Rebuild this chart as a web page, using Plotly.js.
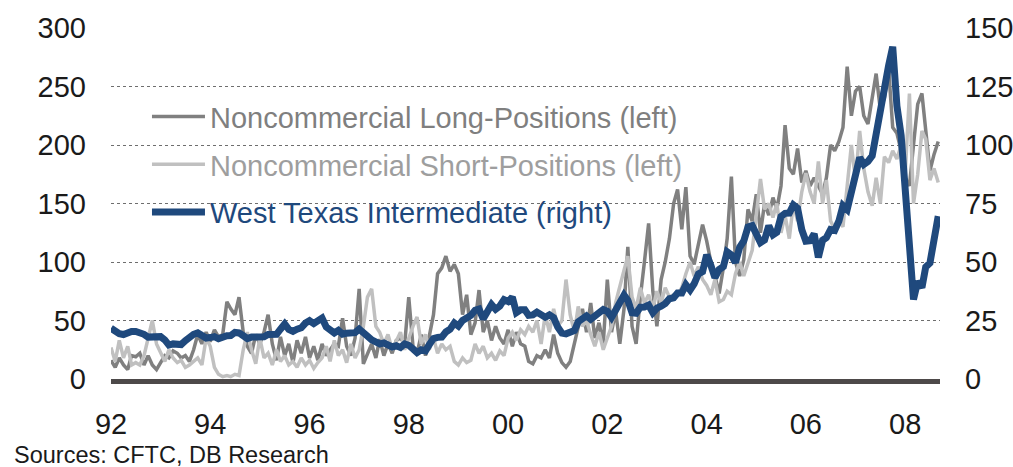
<!DOCTYPE html>
<html><head><meta charset="utf-8">
<script src="https://cdn.plot.ly/plotly-3.0.1.min.js"></script>
<style>html,body{margin:0;padding:0;background:#fff;}#chart{width:1013px;height:467px;}</style>
</head><body><div id="chart"></div>
<script>
// Monthly observations, first month Oct 1992, last month Jun 2009
const startYear = 1992, startMonth = 10, nMonths = 201;

// Noncommercial long positions (left axis, '000 contracts)
const longPos = [
16,10,18,12,8,20,19,22,12,20,
12,8,14,20,18,24,22,18,20,15,
25,38,30,40,32,42,36,38,66,60,
55,70,40,28,22,38,30,40,55,30,
16,36,20,30,14,33,22,36,18,28,
16,30,20,25,30,28,52,28,20,35,
77,13,22,30,18,34,20,30,22,33,
35,30,70,28,22,38,20,35,55,90,
95,105,92,98,90,55,72,38,48,76,
40,50,33,45,35,30,42,28,40,30,
28,15,13,20,18,25,18,38,22,14,
10,15,30,45,60,40,65,35,48,30,
85,40,58,30,60,113,45,30,70,100,
133,75,45,85,100,120,150,162,128,164,
105,98,115,132,118,100,88,73,95,120,
173,100,88,102,145,135,158,125,150,140,
155,145,165,217,180,175,197,168,178,165,
172,165,158,172,200,195,203,215,267,225,
246,250,225,218,240,261,230,240,265,215,
210,195,172,165,200,235,244,215,178,192,203
];

// Noncommercial short positions (left axis)
const shortPos = [
27,15,33,18,28,12,14,12,20,35,
50,30,22,15,25,18,14,16,10,12,
15,18,12,35,28,10,4,2,3,2,
4,3,25,40,25,13,35,18,22,12,
25,15,20,12,15,10,18,12,16,9,
14,18,28,15,33,20,25,14,30,18,
25,45,70,77,45,40,30,38,25,32,
40,25,35,45,53,30,38,25,35,22,
30,25,28,15,12,18,14,16,30,22,
28,18,22,16,24,20,35,40,33,42,
38,45,40,50,30,55,40,60,45,50,
85,55,40,62,45,50,38,28,40,25,
35,45,65,80,93,105,70,60,78,65,
72,60,75,65,78,70,72,72,78,90,
100,88,96,85,80,72,85,66,68,75,
72,90,100,88,98,110,140,171,145,150,
138,150,125,140,120,150,135,160,176,160,
150,186,150,170,135,128,137,130,165,200,
170,212,180,160,148,172,150,190,185,195,
188,200,175,244,150,175,212,205,170,180,168
];

// West Texas Intermediate, USD/bbl (right axis)
const wti = [
21.7,20.3,19.4,
19.0,20.1,20.3,20.3,19.9,19.1,17.9,18.0,17.5,18.1,16.7,14.5,
15.0,14.8,14.7,16.4,17.9,19.1,19.7,18.4,17.5,17.7,18.1,17.2,
18.0,18.5,18.6,19.9,19.7,18.4,17.3,17.9,18.0,17.4,18.0,19.0,
18.9,19.1,21.3,23.5,21.2,20.4,21.3,21.9,23.9,24.9,23.7,25.2,
26.0,22.2,20.9,19.7,20.8,19.2,19.6,19.9,19.8,21.3,20.2,18.3,
16.7,16.1,15.0,15.4,14.9,13.7,14.2,13.5,15.0,14.4,12.9,11.3,
12.5,12.0,14.7,17.3,17.8,17.9,20.1,21.3,23.9,22.6,25.0,26.1,
27.2,29.4,29.9,25.7,28.8,31.8,29.8,31.2,33.9,33.1,35.0,28.4,
29.6,29.6,27.2,27.4,28.6,27.6,26.4,27.4,26.2,22.2,19.6,19.3,
19.7,20.7,24.5,26.2,27.0,25.5,26.9,28.4,29.7,28.9,26.3,29.4,
32.9,35.9,33.6,28.3,28.1,30.7,30.8,31.6,28.3,30.3,31.1,32.2,
34.3,34.7,36.7,36.7,40.3,38.0,40.7,44.9,45.9,53.1,48.5,43.3,
46.8,48.0,54.3,53.0,49.8,56.3,59.0,65.0,65.6,62.4,58.3,59.4,
65.5,61.6,62.7,69.4,70.8,70.9,74.4,73.0,63.8,58.9,59.1,62.0,
52.0,59.3,60.4,63.9,63.5,67.5,74.1,72.4,79.9,86.2,94.6,91.7,
93.0,95.4,105.5,112.6,125.4,134.0,142.0,116.7,104.1,76.6,57.3,34.0,
41.7,39.1,47.9,49.6,59.0,69.6
];

const tickLabels = ['92','94','96','98','00','02','04','06','08'];
const tickDates = ['1992-10-01','1994-10-01','1996-10-01','1998-10-01','2000-10-01','2002-10-01','2004-10-01','2006-10-01','2008-10-01'];
const leftTicks = [0,50,100,150,200,250,300];
const rightTicks = [0,25,50,75,100,125,150];
const seriesNames = ['Noncommercial Long-Positions (left)','Noncommercial Short-Positions (left)','West Texas Intermediate (right)'];
const sourceText = 'Sources: CFTC, DB Research';

const dates = [];
for (let i = 0; i < nMonths; i++) {
  const m0 = startMonth - 1 + i;
  const y = startYear + Math.floor(m0 / 12);
  const m = (m0 % 12) + 1;
  dates.push(y + '-' + String(m).padStart(2, '0') + '-01');
}

const FONT = 'Liberation Sans, Arial, Helvetica, sans-serif';
const cLong = '#808080', cShort = '#C0C0C0', cWti = '#1F497D';

const traces = [
  {x: dates, y: longPos, type: 'scatter', mode: 'lines', yaxis: 'y', legendgroup: 'a',
   name: '<span style="color:#7f7f7f">' + seriesNames[0] + '</span>',
   line: {color: cLong, width: 3.5}, hoverinfo: 'skip'},
  {x: dates, y: shortPos, type: 'scatter', mode: 'lines', yaxis: 'y', legendgroup: 'b',
   name: '<span style="color:#9e9e9e">' + seriesNames[1] + '</span>',
   line: {color: cShort, width: 3.5}, hoverinfo: 'skip'},
  {x: dates, y: wti, type: 'scatter', mode: 'lines', yaxis: 'y2', legendgroup: 'c',
   name: '<span style="color:#1F497D">' + seriesNames[2] + '</span>',
   line: {color: cWti, width: 7}, hoverinfo: 'skip'}
];

const tickFont = {family: FONT, size: 29, color: '#1a1a1a'};

const layout = {
  width: 1013, height: 467,
  margin: {l: 111, r: 73, t: 28, b: 88},
  paper_bgcolor: '#ffffff', plot_bgcolor: '#ffffff',
  showlegend: true,
  legend: {x: 0.0434, y: 0.82, xanchor: 'left', yanchor: 'top', bgcolor: 'rgba(0,0,0,0)',
           font: {family: FONT, size: 29, color: '#808080'}, tracegroupgap: 7, itemwidth: 53},
  xaxis: {type: 'date', range: ['1992-10-01', '2009-06-14'], tickmode: 'array', tickvals: tickDates, ticktext: tickLabels,
          showgrid: false, zeroline: false, showline: true, linecolor: '#4d4949', linewidth: 5,
          ticks: '', ticklabelstandoff: 15, tickfont: tickFont, fixedrange: true},
  yaxis: {range: [0, 300], tickmode: 'array', tickvals: leftTicks, showgrid: true, gridcolor: '#6e6e6e',
          griddash: 'dot', gridwidth: 1, zeroline: false, showline: false, ticks: '', ticklabelstandoff: 24,
          tickfont: tickFont, fixedrange: true},
  yaxis2: {overlaying: 'y', side: 'right', range: [0, 150], tickmode: 'array', tickvals: rightTicks,
           showgrid: false, zeroline: false, showline: false, ticks: '', ticklabelstandoff: 24,
           tickfont: tickFont, fixedrange: true},
  annotations: [{text: sourceText, xref: 'paper', yref: 'paper', x: -0.119, y: -0.2165,
                 xanchor: 'left', yanchor: 'middle', showarrow: false,
                 font: {family: FONT, size: 23.5, color: '#1a1a1a'}}]
};

Plotly.newPlot('chart', traces, layout, {displayModeBar: false, staticPlot: true});
</script></body></html>
